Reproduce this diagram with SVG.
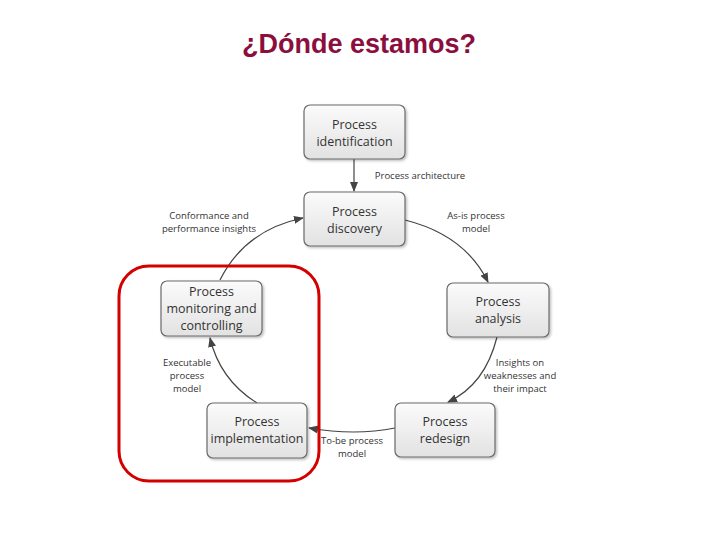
<svg xmlns="http://www.w3.org/2000/svg" width="720" height="540" viewBox="0 0 720 540">
<style>
.title{font-family:"Liberation Sans",Arial,sans-serif;font-size:27px;font-weight:bold;fill:#8a0f3e;text-anchor:middle}
.box{fill:url(#g);stroke:#6a6a6a;stroke-width:1.2}
.nt{font-family:"Open Sans","Liberation Sans",sans-serif;font-size:12.5px;fill:#333;text-anchor:middle}
.lt{font-family:"Open Sans","Liberation Sans",sans-serif;font-size:9.5px;fill:#333;text-anchor:middle}
.c{fill:none;stroke:#444;stroke-width:1.2;marker-end:url(#a)}
</style>
<defs>
<linearGradient id="g" x1="0" y1="0" x2="0" y2="1">
<stop offset="0" stop-color="#fbfbfb"/>
<stop offset="1" stop-color="#e2e2e2"/>
</linearGradient>
<marker id="a" markerWidth="10" markerHeight="10" refX="9" refY="5" orient="auto" markerUnits="userSpaceOnUse">
<path d="M0,1 L10,5 L0,9 Z" fill="#444"/>
</marker>
<filter id="sh" x="-10%" y="-10%" width="130%" height="130%">
<feDropShadow dx="1.5" dy="1.5" stdDeviation="1.2" flood-color="#000" flood-opacity="0.25"/>
</filter>
</defs>
<rect width="720" height="540" fill="#fff"/>
<text class="title" x="359" y="53">¿Dónde estamos?</text>
<g id="connectors">
<path class="c" d="M354,159 L354,191"/>
<path class="c" d="M405,220 Q465,235 488,282"/>
<path class="c" d="M497,337 Q485,385 448,402"/>
<path class="c" d="M395,428 Q355,436 309,428"/>
<path class="c" d="M257,403 Q220,380 210,338"/>
<path class="c" d="M220,280 Q245,230 303,218"/>
</g>
<g id="labels">
<text class="lt" x="420" y="179">Process architecture</text>
<text class="lt" x="476" y="219">As-is process</text>
<text class="lt" x="476" y="232">model</text>
<text class="lt" x="209" y="219">Conformance and</text>
<text class="lt" x="209" y="232">performance insights</text>
<text class="lt" x="520" y="366">Insights on</text>
<text class="lt" x="520" y="379">weaknesses and</text>
<text class="lt" x="520" y="392">their impact</text>
<text class="lt" x="187" y="366">Executable</text>
<text class="lt" x="187" y="379">process</text>
<text class="lt" x="187" y="392">model</text>
<text class="lt" x="352" y="444">To-be process</text>
<text class="lt" x="352" y="457">model</text>
</g>
<g id="n-identification">
<rect class="box" filter="url(#sh)" x="304" y="105" width="101" height="54" rx="6"/>
<text class="nt" x="354.5" y="129">Process</text>
<text class="nt" x="354.5" y="146">identification</text>
</g>
<g id="n-discovery">
<rect class="box" filter="url(#sh)" x="304" y="192" width="101" height="54" rx="6"/>
<text class="nt" x="354.5" y="216">Process</text>
<text class="nt" x="354.5" y="233">discovery</text>
</g>
<g id="n-analysis">
<rect class="box" filter="url(#sh)" x="447" y="283" width="102" height="54" rx="6"/>
<text class="nt" x="498" y="306">Process</text>
<text class="nt" x="498" y="323">analysis</text>
</g>
<g id="n-redesign">
<rect class="box" filter="url(#sh)" x="395" y="403" width="100" height="54" rx="6"/>
<text class="nt" x="445" y="426">Process</text>
<text class="nt" x="445" y="443">redesign</text>
</g>
<g id="n-implementation">
<rect class="box" filter="url(#sh)" x="207" y="403" width="100" height="55" rx="6"/>
<text class="nt" x="257" y="426">Process</text>
<text class="nt" x="257" y="443">implementation</text>
</g>
<g id="n-monitoring">
<rect class="box" filter="url(#sh)" x="161" y="281" width="101" height="55" rx="6"/>
<text class="nt" x="211.5" y="296">Process</text>
<text class="nt" x="211.5" y="313">monitoring and</text>
<text class="nt" x="211.5" y="330">controlling</text>
</g>
<g id="highlight">
<rect x="119" y="266" width="200" height="215" rx="30" fill="none" stroke="#d40000" stroke-width="3"/>
</g>
</svg>
